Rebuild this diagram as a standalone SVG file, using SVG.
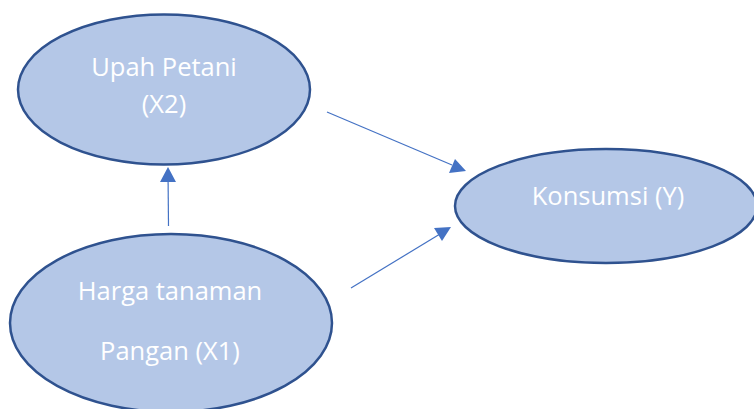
<svg xmlns="http://www.w3.org/2000/svg" width="754" height="409" viewBox="0 0 754 409">
<defs>
<style>
.node{fill:#B4C7E7;stroke:#2F528F;stroke-width:2.5}
.lbl{font-family:"Open Sans","Liberation Sans",sans-serif;font-size:25.5px;fill:#FFFFFF;text-anchor:middle}
.edge{stroke:#4472C4;stroke-width:1.2;fill:none}
.head{fill:#4472C4}
</style>
</defs>
<rect width="754" height="409" fill="#FFFFFF"/>
<g id="connectors">
<path class="edge" d="M168.5,226 L168,170"/>
<path class="head" d="M168,167 L160,182 L176,182 Z"/>
<path class="edge" d="M327,112 L452,165"/>
<path class="head" d="M466,171 L449,173 L455,159 Z"/>
<path class="edge" d="M351,288 L440,234"/>
<path class="head" d="M451,227 L442,241 L434,228 Z"/>
</g>
<g id="node-x2">
<ellipse class="node" cx="164" cy="89.5" rx="146" ry="75"/>
<text class="lbl" x="164" y="76">Upah Petani</text>
<text class="lbl" x="164" y="113">(X2)</text>
</g>
<g id="node-y">
<ellipse class="node" cx="606" cy="206" rx="151" ry="57"/>
<text class="lbl" x="608" y="205">Konsumsi (Y)</text>
</g>
<g id="node-x1">
<ellipse class="node" cx="171" cy="323" rx="161" ry="89"/>
<text class="lbl" x="170" y="300">Harga tanaman</text>
<text class="lbl" x="170" y="360">Pangan (X1)</text>
</g>
</svg>
